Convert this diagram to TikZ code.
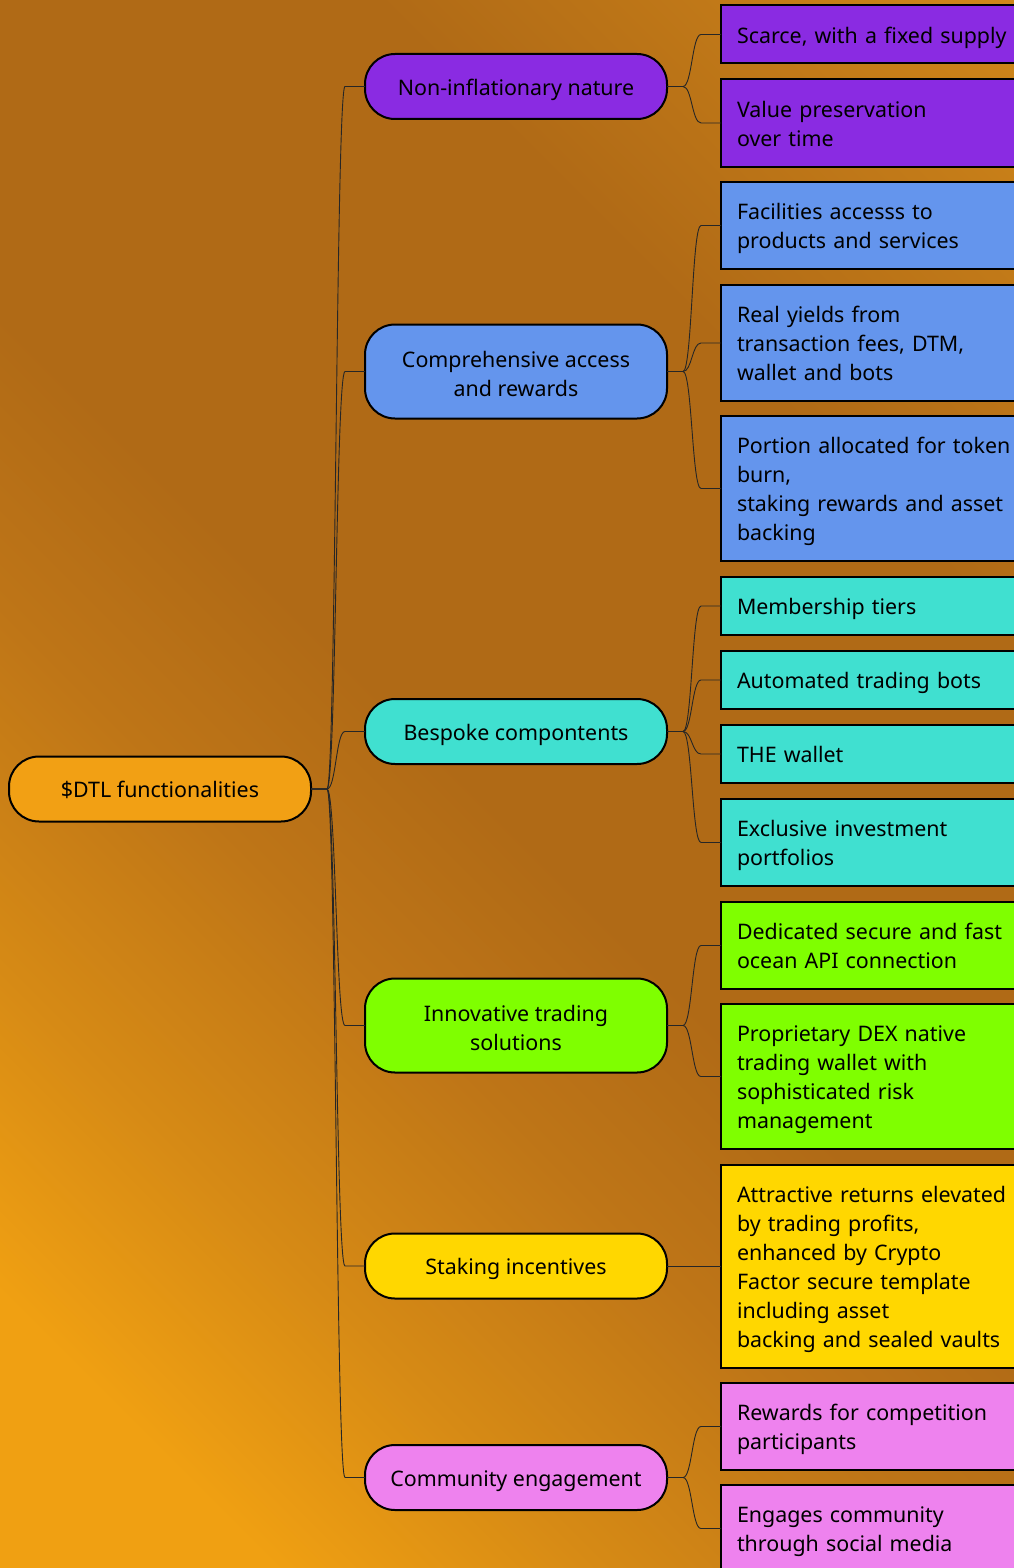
\documentclass[tikz,border=0pt]{standalone}
\usepackage{fontspec}
\setmainfont{Noto Sans}
\usetikzlibrary{calc,shapes.misc}

\definecolor{rootfill}{HTML}{F2A014}
\definecolor{purplefill}{HTML}{8A2BE2}
\definecolor{bluefill}{HTML}{6495ED}
\definecolor{turqfill}{HTML}{40E0D0}
\definecolor{greenfill}{HTML}{7FFF00}
\definecolor{goldfill}{HTML}{FFD700}
\definecolor{violetfill}{HTML}{EE82EE}
\definecolor{bgbright}{HTML}{F0A012}
\definecolor{bgwarm}{HTML}{D68A15}
\definecolor{bgtan}{HTML}{BE7517}
\definecolor{bgdark}{HTML}{B06A16}
\definecolor{bgsoft}{HTML}{C27A18}
\definecolor{bglight}{HTML}{D28819}
\pgfdeclarehorizontalshading{bggrad}{100bp}{color(0bp)=(bgbright); color(22bp)=(bgbright);
  color(31bp)=(bgwarm); color(41bp)=(bgtan); color(49bp)=(bgdark); color(68bp)=(bgdark);
  color(78bp)=(bgsoft); color(86bp)=(bglight); color(100bp)=(bglight)}
\newcommand{\topstrut}{\rule[-6.7pt]{0pt}{30.7pt}}
\newcommand{\botstrut}{\rule[-6.7pt]{0pt}{6.7pt}}
\newcommand{\tallstrut}{\rule{0pt}{27pt}}

\begin{document}
\begin{tikzpicture}[x=1pt, y=-1pt,
      every node/.append style={font=\fontsize{21.4}{29}\selectfont, outer sep=0pt, text=black,
        execute at begin node=\topstrut, execute at end node=\botstrut},
      branch/.style={to path={-- ++(16,0)
        .. controls ($(\tikztostart)+(25,0)$) and ($(\tikztotarget)+(-29,0)$) .. ($(\tikztotarget)+(-20,0)$)
        -- (\tikztotarget)}}]
    \tikzstyle{topic} = [draw=black, line width=2pt, rounded corners=30pt, minimum width=302pt,
      minimum height=65pt, inner sep=0pt, align=center]
    \tikzstyle{leaf} = [draw=black, line width=2pt, anchor=west, text width=300pt,
      inner xsep=16pt, inner ysep=0pt, align=left, minimum height=58pt]
    \tikzstyle{link} = [draw=black!85, line width=0.9pt]
    \clip (0,0) rectangle (1014,1568);
    \shade[shading=bggrad, shading angle=45] (0,0) rectangle (1014,1568);

    \node [topic, fill=rootfill] (dtl) at (160,789) {\$DTL functionalities};

    \node [topic, fill=purplefill] (non_inflation) at (516,86.5) {Non-inflationary nature};
    \node [topic, fill=bluefill, minimum height=94pt] (access) at (516,371.5) {\tallstrut Comprehensive access\\and rewards};
    \node [topic, fill=turqfill] (bespoke) at (516,731.5) {Bespoke compontents};
    \node [topic, fill=greenfill, minimum height=94pt] (trading) at (516,1025.5) {\tallstrut Innovative trading\\solutions};
    \node [topic, fill=goldfill] (staking) at (516,1266) {Staking incentives};
    \node [topic, fill=violetfill] (community) at (516,1477.5) {Community engagement};

    \node [leaf, fill=purplefill] (scarce) at (721,34.5) {Scarce, with a fixed supply};
    \node [leaf, fill=purplefill, minimum height=87pt] (value) at (721,123) {Value preservation\\over time};
    \node [leaf, fill=bluefill, minimum height=87pt] (facilities) at (721,225.5) {Facilities accesss to\\products and services};
    \node [leaf, fill=bluefill, minimum height=116pt] (yields) at (721,343) {Real yields from\\transaction fees, DTM,\\wallet and bots};
    \node [leaf, fill=bluefill, minimum height=145pt] (portion) at (721,488.5) {Portion allocated for token\\burn,\\staking rewards and asset\\backing};
    \node [leaf, fill=turqfill] (membership) at (721,606) {Membership tiers};
    \node [leaf, fill=turqfill] (bots) at (721,680) {Automated trading bots};
    \node [leaf, fill=turqfill] (wallet) at (721,754) {THE wallet};
    \node [leaf, fill=turqfill, minimum height=87pt] (portfolios) at (721,842.5) {Exclusive investment\\portfolios};
    \node [leaf, fill=greenfill, minimum height=87pt] (api) at (721,945.5) {Dedicated secure and fast\\ocean API connection};
    \node [leaf, fill=greenfill, minimum height=145pt] (dex) at (721,1076.5) {Proprietary DEX native\\trading wallet with\\sophisticated risk\\management};
    \node [leaf, fill=goldfill, minimum height=203pt] (returns) at (721,1266) {Attractive returns elevated\\by trading profits,\\enhanced by Crypto\\Factor secure template\\including asset\\backing and sealed vaults};
    \node [leaf, fill=violetfill, minimum height=87pt] (competition) at (721,1426.5) {Rewards for competition\\participants};
    \node [leaf, fill=violetfill, minimum height=87pt] (social) at (721,1528.5) {Engages community\\through social media};

    % first level
    \draw [link] (dtl.east) to[branch] (non_inflation.west);
    \draw [link] (dtl.east) to[branch] (access.west);
    \draw [link] (dtl.east) to[branch] (bespoke.west);
    \draw [link] (dtl.east) to[branch] (trading.west);
    \draw [link] (dtl.east) to[branch] (staking.west);
    \draw [link] (dtl.east) to[branch] (community.west);
    % second level
    \draw [link] (non_inflation.east) to[branch] (scarce.west);
    \draw [link] (non_inflation.east) to[branch] (value.west);
    \draw [link] (access.east) to[branch] (facilities.west);
    \draw [link] (access.east) to[branch] (yields.west);
    \draw [link] (access.east) to[branch] (portion.west);
    \draw [link] (bespoke.east) to[branch] (membership.west);
    \draw [link] (bespoke.east) to[branch] (bots.west);
    \draw [link] (bespoke.east) to[branch] (wallet.west);
    \draw [link] (bespoke.east) to[branch] (portfolios.west);
    \draw [link] (trading.east) to[branch] (api.west);
    \draw [link] (trading.east) to[branch] (dex.west);
    \draw [link] (staking.east) to[branch] (returns.west);
    \draw [link] (community.east) to[branch] (competition.west);
    \draw [link] (community.east) to[branch] (social.west);
  \end{tikzpicture}
\end{document}
